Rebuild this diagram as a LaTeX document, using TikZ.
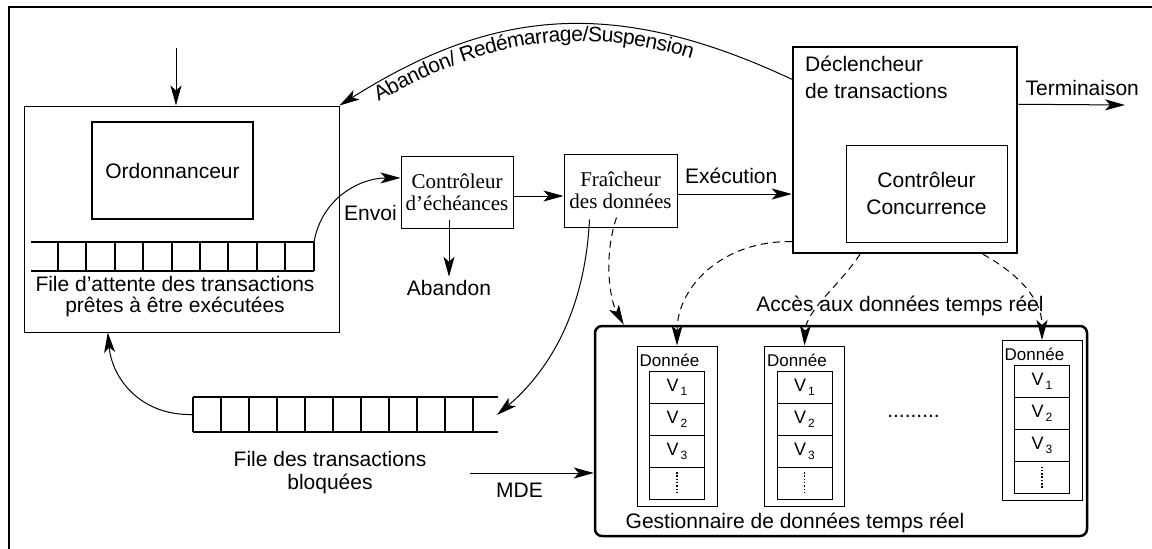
\documentclass[tikz,border=0pt]{standalone}
\usepackage{fontspec}
\setmainfont{Liberation Sans}
\newfontfamily\timesfont{Liberation Serif}
\usetikzlibrary{arrows.meta, positioning, calc, decorations.text}
\tikzset{x = 1pt, y = -1pt,
         >= {Stealth[length = 20pt, width = 11pt, inset = 5pt]},
         every node/.style = {font = \fontsize{21}{23}\selectfont},
         box/.style = {draw, line width = 1pt, inner sep = 0pt},
         thickbox/.style = {draw, line width = 2pt, inner sep = 0pt},
         serifbox/.style = {box, align = center,
                            font = \timesfont\fontsize{21}{22}\selectfont},
         link/.style = {->, line width = 1pt},
         access/.style = {->, line width = 1pt, dash pattern = on 7pt off 5pt},
         queue/.style = {line width = 2pt},
         cell/.style = {draw, line width = 1pt, outer sep = 0pt, inner sep = 0pt,
                        minimum width = 55pt, minimum height = 32pt,
                        font = \fontsize{18}{18}\selectfont}}
\newcommand{\vsub}[1]{V\raisebox{-4pt}{\fontsize{12}{12}\selectfont\,#1}}

\begin{document}
\begin{tikzpicture}
    \useasboundingbox (0,0) rectangle (1152,549);
    \draw[line width = 2.5pt] (9,549) -- (9,7) -- (1152,7);

    \node[box, minimum width = 315pt, minimum height = 226pt] (sched) at (181.5,219) {};
    \node[thickbox, minimum width = 161pt, minimum height = 97pt] (ordo) at (172.5,170.5) {Ordonnanceur};
    \draw[queue] (31,242) -- (314,242) (31,271) -- (314,271);
    \foreach \i in {0,...,9}
        \draw[queue] (58+28.4*\i,242) -- ++(0,29);
    \coordinate (readyend) at (314,242);
    \node[align = center, font = \fontsize{21}{21}\selectfont] (readytxt) at (175,297) {File d’attente des transactions\\prêtes à être exécutées};
    \coordinate (in) at (176,48);
    \draw[link] (in) -- (in |- sched.north);

    \node[serifbox, minimum width = 112pt, minimum height = 72pt] (dl) at (457,192) {Contrôleur\\d’échéances};
    \node (abandon) at (449,288) {Abandon};
    \node[serifbox, minimum width = 113pt, minimum height = 73pt] (fresh) at (620.5,190.5) {Fraîcheur\\des données};

    \node[draw, line width = 2.5pt, minimum width = 224pt, minimum height = 206pt] (trig) at (905,150) {};
    \node[anchor = north west, align = left, inner sep = 0pt, font = \fontsize{21}{27}\selectfont] (trigtxt) at (805,56) {Déclencheur\\de transactions};
    \node[box, align = center, minimum width = 161pt, minimum height = 97pt, font = \fontsize{21}{27}\selectfont] (cc) at (926.5,193.5) {Contrôleur\\Concurrence};
    \coordinate (term) at (1125,105);

    \draw[queue] (193,397) -- (498,397) (193,432) -- (498,432);
    \foreach \i in {0,...,10}
        \draw[queue] (193+28*\i,397) -- ++(0,35);
    \coordinate (blockstart) at (193,414.5);
    \coordinate (blockend) at (497,415);
    \node[align = center] (blocktxt) at (330,473) {File des transactions\\bloquées};
    \coordinate (mdestart) at (470,473);

    \node[draw, line width = 2.5pt, rounded corners = 7pt, minimum width = 492pt, minimum height = 210pt] (dm) at (841,431) {};
    \node (gest) at (795,523) {Gestionnaire de données temps réel};
    \node (acc) at (900,306) {Accès aux données temps réel};
    \node (dots) at (913.5,416) {.........};
    \foreach \n/\cx/\cy in {a/677/426, b/804.5/426, c/1042/420.5} {
        \node[box, minimum width = 80pt, minimum height = 160pt] (\n) at (\cx,\cy) {};
        \node[anchor = north west, inner sep = 0pt, font = \fontsize{17}{17}\selectfont] (\n-lbl) at ([xshift = 3pt, yshift = -8pt]\n.north west) {Donnée};
        \node[cell] (\n1) at (\cx,\cy-39) {\vsub{1}};
        \node[cell, below = 0pt of \n1] (\n2) {\vsub{2}};
        \node[cell, below = 0pt of \n2] (\n3) {\vsub{3}};
        \node[cell, below = 0pt of \n3] (\n4) {};
        \draw[line width = 1.5pt, dash pattern = on 1.5pt off 1.8pt] ([yshift = 11pt]\n4.center) -- ([yshift = -11pt]\n4.center);
    }

    \draw[link] (trig.148) .. controls (612,-5) and (491,10) .. (sched.north east);
    \path[decorate, decoration = {text along path, text align = {left indent = 36pt}, raise = -17pt,
          text = {|\fontsize{21}{21}\selectfont|Abandon/ Redémarrage/Suspension}}]
          (sched.north east) .. controls (491,10) and (612,-5) .. (trig.148);
    \draw[link] (readyend) .. controls (322,197) and (361,178) .. (dl.166) node[pos = 0.25, anchor = west, xshift = 15pt] (envoi) {Envoi};
    \draw[link] ([yshift = 9pt]dl.south -| abandon.north) -- (abandon.north);
    \draw[link] ([yshift = -4pt]dl.east) -- ([yshift = -4pt]dl.east -| fresh.west);
    \draw[link] ([yshift = -3.5pt]fresh.east) -- ([yshift = -3.5pt]fresh.east -| trig.west) node[pos = 0.47, above = 6pt] (exec) {Exécution};
    \draw[link] (trig.22) -- (term) node[pos = 0.6, above = 5pt] (termlbl) {Terminaison};
    \draw[link] ($(fresh.south west)+(26,-8)$) .. controls (585,310) and (550,370) .. (blockend);
    \draw[link] (blockstart) .. controls (140,416) and (112,378) .. (sched.237);
    \draw[link] (mdestart) -- (mdestart -| dm.west) node[pos = 0.4, below = 6pt] (mde) {MDE};

    \draw[access] ($(fresh.south)+(-4,-10)$) .. controls (603,258) and (610,300) .. ($(dm.north west)+(30,0)$);
    \draw[access] (trig.219) .. controls (725,240) and (677,285) .. (a.north);
    \draw[access] ($(trig.south)+(-45,0)$) .. controls (840,285) and (806,310) .. (b.north);
    \draw[access] ($(trig.south)+(78,0)$) .. controls (1020,275) and (1042,300) .. (c.north);
\end{tikzpicture}
\end{document}
